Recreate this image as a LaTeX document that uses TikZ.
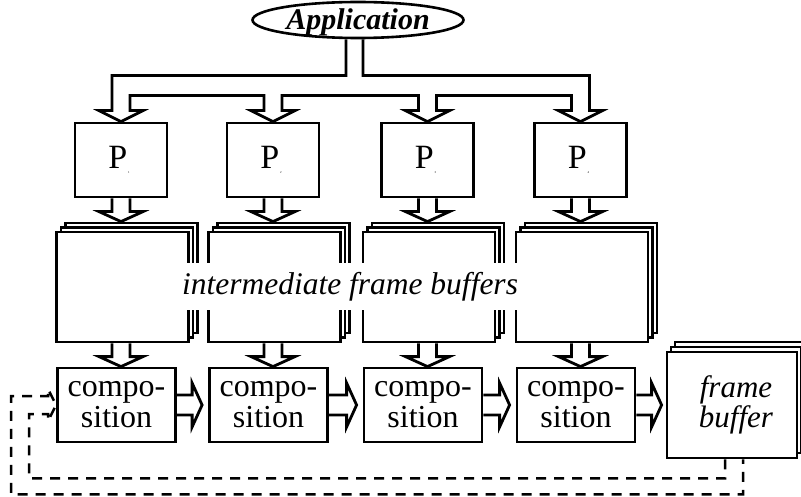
\documentclass[tikz,border=0pt]{standalone}
\usepackage{fontspec}
\setmainfont{Liberation Serif}
\usetikzlibrary{calc,shapes.geometric}
\begin{document}
\begin{tikzpicture}[x=1pt,y=-1pt,
  lw/.style={line width=2.8pt},
  appnode/.style={draw,ellipse,line width=2.6pt,minimum width=211pt,minimum height=36pt,inner sep=0pt,
    font=\bfseries\itshape\fontsize{30}{30}\selectfont},
  pbox/.style={draw,lw,fill=white,minimum width=92pt,minimum height=74pt,inner sep=0pt,font=\fontsize{34}{34}\selectfont},
  layer/.style={draw,lw,fill=white,minimum width=132pt,minimum height=110pt,inner sep=0pt},
  cbox/.style={draw,lw,fill=white,minimum width=118pt,minimum height=74pt,inner sep=0pt,align=center,
    font=\fontsize{32}{31}\selectfont},
  fblayer/.style={draw,lw,fill=white,minimum width=130pt,minimum height=106pt,inner sep=0pt,align=center,
    font=\itshape\fontsize{31}{30}\selectfont},
  label/.style={fill=white,inner sep=0pt,minimum width=340pt,minimum height=47pt,
    font=\itshape\fontsize{31.5}{31.5}\selectfont},
  pipe/.style={lw,line join=miter},
  dline/.style={line width=2.5pt,dash pattern=on 10pt off 8pt,line join=miter},
]
\useasboundingbox (0,0) rectangle (801,497);

% application
\node[appnode] (app) at (358,20) {\makebox[0pt]{\raisebox{-9.5pt}[0pt][0pt]{Application}}};

% columns
\foreach \i/\x in {1/121,2/273,3/427.5,4/580.5} {
  \node[pbox] (P\i) at (\x,160) {\kern-4pt P\kern1pt\raisebox{-5pt}{\fontsize{3}{3}\selectfont\i}};
  \node[layer] (Sc\i) at ({\x+10.5},278) {};
  \node[layer] (Sb\i) at ({\x+6},282.5) {};
  \node[layer] (S\i) at ({\x+1.5},287) {};
  \node[cbox] (C\i) at ({\x-4.5},405) {compo-\\sition};
  \coordinate (a\i) at (P\i.south |- Sc\i.north);
  \draw[pipe] ($(P\i.south)+(-9,0)$) -- ($(a\i)+(-9,-10)$) -- ($(a\i)+(-22,-10)$) -- (a\i)
     -- ($(a\i)+(22,-10)$) -- ($(a\i)+(9,-10)$) -- ($(P\i.south)+(9,0)$);
  \coordinate (u\i) at (S\i.south -| P\i.south);
  \coordinate (v\i) at (C\i.north -| P\i.south);
  \draw[pipe] ($(u\i)+(-9,0)$) -- ($(v\i)+(-9,-10)$) -- ($(v\i)+(-22,-10)$) -- (v\i)
     -- ($(v\i)+(22,-10)$) -- ($(v\i)+(9,-10)$) -- ($(u\i)+(9,0)$);
}

% top distribution bus
\draw[pipe] ($(app.south)+(-12,0)$) |- ($(P1.north)+(-9,-46)$) -- ($(P1.north)+(-9,-11)$)
  -- ($(P1.north)+(-22,-11)$) -- (P1.north) -- ($(P1.north)+(22,-11)$) -- ($(P1.north)+(9,-11)$)
  |- ($(P2.north)+(-9,-26)$) -- ($(P2.north)+(-9,-11)$)
  -- ($(P2.north)+(-22,-11)$) -- (P2.north) -- ($(P2.north)+(22,-11)$) -- ($(P2.north)+(9,-11)$)
  |- ($(P3.north)+(-9,-26)$) -- ($(P3.north)+(-9,-11)$)
  -- ($(P3.north)+(-22,-11)$) -- (P3.north) -- ($(P3.north)+(22,-11)$) -- ($(P3.north)+(9,-11)$)
  |- ($(P4.north)+(-9,-26)$) -- ($(P4.north)+(-9,-11)$)
  -- ($(P4.north)+(-22,-11)$) -- (P4.north) -- ($(P4.north)+(22,-11)$) -- ($(P4.north)+(9,-11)$)
  -- ($(P4.north)+(9,-46)$) -| ($(app.south)+(5,0)$);

% label over the buffers
\node[label] (imt) at (350,286.5) {intermediate frame buffers};

% frame buffer
\node[fblayer] (FBc) at (740,395) {};
\node[fblayer] (FBb) at (736,400) {};
\node[fblayer] (FB) at (732,405) {\kern8pt frame\\\kern8pt buffer};

% horizontal arrows
\foreach \i/\j in {1/2,2/3,3/4} {
  \coordinate (h\i) at ($(C\j.west)+(-6,0)$);
  \draw[pipe] ($(C\i.east)+(0,-10)$) -- ($(h\i)+(-10,-10)$) -- ($(h\i)+(-10,-22)$) -- (h\i)
     -- ($(h\i)+(-10,22)$) -- ($(h\i)+(-10,10)$) -- ($(C\i.east)+(0,10)$);
}
\coordinate (h4) at ($(FB.west)+(-4,0)$);
\draw[pipe] ($(C4.east)+(0,-10)$) -- ($(h4)+(-10,-10)$) -- ($(h4)+(-10,-22)$) -- (h4)
   -- ($(h4)+(-10,22)$) -- ($(h4)+(-10,10)$) -- ($(C4.east)+(0,10)$);

% dashed feedback
\draw[dline] ($(FB.south)+(-7,0)$) -- ($(FB.south)+(-7,19)$) -| ($(C1.west)+(-27,9)$)
  -- ($(C1.west)+(-8,9)$) -- ($(C1.west)+(-8,16)$) -- (C1.west) -- ($(C1.west)+(-8,-16)$)
  -- ($(C1.west)+(-8,-9)$) -- ($(C1.west)+(-45,-9)$) |- ($(FB.south)+(11,35)$) -- ($(FB.south)+(11,0)$);
\end{tikzpicture}
\end{document}
